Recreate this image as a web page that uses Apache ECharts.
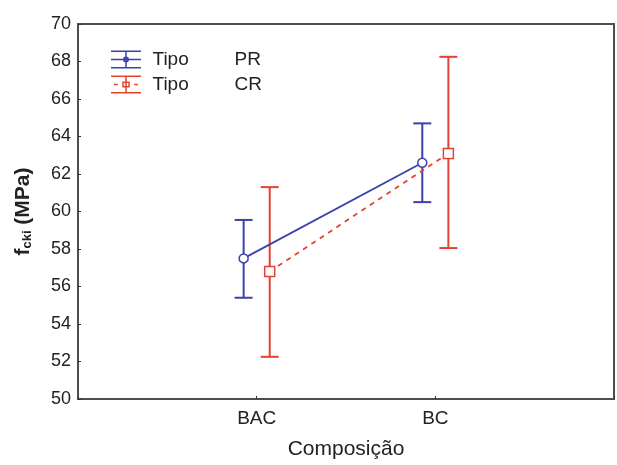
<!DOCTYPE html>
<html>
<head>
<meta charset="utf-8">
<script src="https://cdn.jsdelivr.net/npm/echarts@6/dist/echarts.min.js"></script>
<style>
html, body { margin: 0; padding: 0; background: #fff; }
#chart { width: 617px; height: 465px; }
</style>
</head>
<body>
<div id="chart"></div>
<script>
var categories = ['BAC', 'BC'];
var yTicks = [50, 52, 54, 56, 58, 60, 62, 64, 66, 68, 70];

var prMean = [57.5, 62.6];
var prLow = [55.4, 60.5];
var prHigh = [59.55, 64.7];

var crMean = [56.8, 63.1];
var crLow = [52.25, 58.05];
var crHigh = [61.3, 68.25];

var blue = '#3a42ab';
var red = '#e4432f';
var shift = 0.073;

function points(vals, dx) {
    return vals.map(function (v, i) { return [i + 1 + dx, v]; });
}
function bars(lo, hi, dx) {
    return lo.map(function (v, i) { return [i + 1 + dx, v, hi[i]]; });
}
function errorBar(color) {
    return function (params, api) {
        var x = api.value(0);
        var a = api.coord([x, api.value(1)]);
        var b = api.coord([x, api.value(2)]);
        var w = 9;
        var st = { stroke: color, lineWidth: 2 };
        return {
            type: 'group',
            children: [
                { type: 'line', shape: { x1: a[0], y1: a[1], x2: b[0], y2: b[1] }, style: st },
                { type: 'line', shape: { x1: a[0] - w, y1: a[1], x2: a[0] + w, y2: a[1] }, style: st },
                { type: 'line', shape: { x1: b[0] - w, y1: b[1], x2: b[0] + w, y2: b[1] }, style: st }
            ]
        };
    };
}

var prIcon = 'path://M0,0H40V2H0Z M0,11H40V13H0Z M0,22H40V24H0Z M19,0H21V24H19Z M16,12A4,4 0 1 1 24,12A4,4 0 1 1 16,12Z M18,12A2,2 0 1 0 22,12A2,2 0 1 0 18,12Z';
var crIcon = 'path://M0,0H40V2H0Z M4,11H9V13H4Z M31,11H36V13H31Z M0,22H40V24H0Z M19,0H21V24H19Z M15,8H25V16H15Z M17,10V14H23V10Z';

var myChart = echarts.init(document.getElementById('chart'));
var option = {
    animation: false,
    textStyle: { fontFamily: 'Liberation Sans, Arial, sans-serif' },
    grid: {
        left: 78, right: 2, top: 24, bottom: 63,
        show: true, borderColor: '#4e4e4e', borderWidth: 2, backgroundColor: '#fff'
    },
    legend: {
        left: 106, top: 45, orient: 'vertical', itemGap: 6,
        itemWidth: 33, itemHeight: 18,
        selectedMode: false,
        data: [
            { name: 'PR', icon: prIcon, itemStyle: { color: blue } },
            { name: 'CR', icon: crIcon, itemStyle: { color: red } }
        ],
        formatter: function (name) { return '{t|Tipo}{v|' + name + '}'; },
        textStyle: {
            rich: {
                t: { fontSize: 19, color: '#222', width: 82, padding: [0, 0, 0, 5] },
                v: { fontSize: 19, color: '#222' }
            }
        }
    },
    xAxis: {
        type: 'value', min: 0, max: 3, interval: 1,
        name: 'Composição', nameLocation: 'middle', nameGap: 40,
        nameTextStyle: { fontSize: 21, color: '#222' },
        axisLine: { show: true, lineStyle: { color: '#4e4e4e', width: 2 } },
        axisTick: { show: true, inside: true, length: 3, lineStyle: { color: '#333' } },
        splitLine: { show: false },
        axisLabel: {
            fontSize: 19, color: '#222', margin: 10,
            formatter: function (v) { return categories[v - 1] || ''; }
        }
    },
    yAxis: {
        type: 'value', min: yTicks[0], max: yTicks[yTicks.length - 1], interval: 2,
        name: '{f|f}{s|cki}{f| (MPa)}', nameLocation: 'middle', nameGap: 44,
        nameTextStyle: {
            rich: {
                f: { fontSize: 21, fontWeight: 'bold', color: '#222' },
                s: { fontSize: 13, fontWeight: 'bold', color: '#222', verticalAlign: 'bottom', padding: [9, 0, 0, 0] }
            }
        },
        axisLine: { show: true, lineStyle: { color: '#4e4e4e', width: 2 } },
        axisTick: { show: true, inside: true, length: 3, lineStyle: { color: '#333' } },
        splitLine: { show: false },
        axisLabel: { fontSize: 18, color: '#222', margin: 7 }
    },
    series: [
        {
            name: 'PR', type: 'custom', renderItem: errorBar(blue),
            data: bars(prLow, prHigh, -shift), z: 3
        },
        {
            name: 'CR', type: 'custom', renderItem: errorBar(red),
            data: bars(crLow, crHigh, shift), z: 3
        },
        {
            name: 'PR', type: 'line', data: points(prMean, -shift),
            symbol: 'circle', symbolSize: 9,
            lineStyle: { color: blue, width: 1.8 },
            itemStyle: { color: '#fff', borderColor: blue, borderWidth: 1.5 },
            z: 4
        },
        {
            name: 'CR', type: 'line', data: points(crMean, shift),
            symbol: 'rect', symbolSize: 10,
            lineStyle: { color: red, width: 1.8, type: [5, 5] },
            itemStyle: { color: '#fff', borderColor: red, borderWidth: 1.5 },
            z: 4
        }
    ]
};
myChart.setOption(option);

window.addEventListener('resize', function () {
    myChart.resize();
});
</script>
</body>
</html>
